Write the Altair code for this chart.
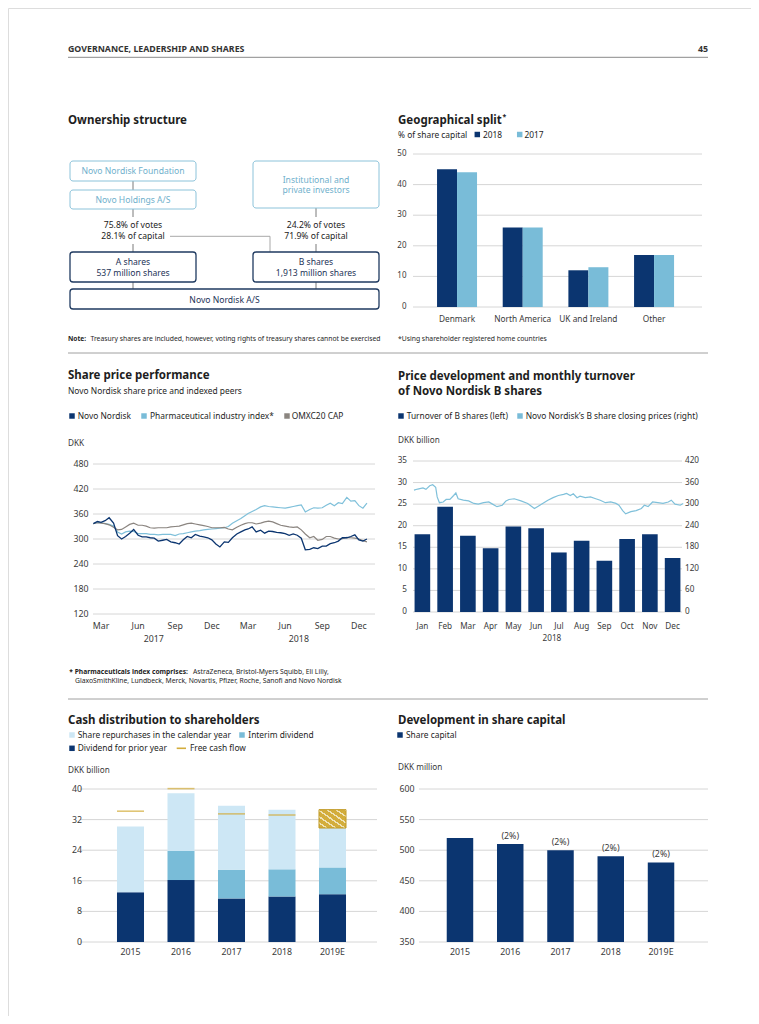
import altair as alt
import pandas as pd

FONT = "Noto Sans"
NAVY = "#0b3570"
LBLUE = "#79bcd8"
VLBLUE = "#cde7f5"
GREY = "#8b8580"
GOLD = "#d3ad3c"
GRID = "#d6d6d6"
TXT = "#1e1e1e"
LAB = "#3a3a3a"

def X(v):
    return v - 8

def Y(v):
    return v - 8

def ts(s):
    return int(pd.Timestamp(s, tz="UTC").value // 10**6)

# ======================= data =======================
geo_regions = ["Denmark", "North America", "UK and Ireland", "Other"]
geo_2018 = [45, 26, 12, 17]
geo_2017 = [44, 26, 13, 17]
geo_ticks = [0, 10, 20, 30, 40, 50]

sp_months = [(2017, m) for m in range(3, 13)] + [(2018, m) for m in range(1, 13)]
sp_dates = ["2017-02-10", "2017-02-20"] + [f"{y}-{m:02d}-{d:02d}" for (y, m) in sp_months for d in (1, 11, 21)]
sp_novo = [337, 342,
           340, 344, 351, 338, 308, 300, 306, 314, 323, 309, 305, 305,
           303, 302, 295, 297, 299, 293, 291, 288, 298, 306, 303, 311,
           307, 305, 303, 298, 288, 281,
           293, 292, 303, 312, 317, 322, 324, 329, 317, 321, 314, 319,
           318, 316, 315, 313, 309, 312, 309, 302, 274, 275, 279, 277,
           283, 283, 289, 291, 295, 303, 303, 306, 310, 298, 295, 300]
sp_pharma = [337, 340,
             339, 337, 335, 331, 317, 312, 317, 319, 318, 313, 313, 313,
             311, 311, 310, 311, 311, 311, 308, 312, 313, 315, 317, 319,
             320, 322, 323, 324, 325, 326,
             327, 330, 338, 344, 349, 356, 361, 366, 371, 377, 380, 378,
             377, 376, 375, 374, 376, 378, 380, 382, 365, 371, 375, 374,
             375, 381, 386, 380, 387, 385, 400, 391, 392, 380, 374, 386]
sp_omx = [337, 339,
          338, 337, 334, 328, 322, 323, 329, 335, 338, 333, 333, 331,
          327, 326, 327, 327, 327, 329, 330, 331, 334, 337, 338, 336,
          334, 332, 330, 327, 327, 327,
          328, 324, 322, 328, 333, 337, 339, 339, 336, 338, 341, 343,
          341, 337, 333, 331, 329, 328, 329, 322, 312, 303, 306, 297,
          299, 306, 306, 302, 300, 301, 304, 303, 302, 300, 296, 293]
sp_ticks = [120, 180, 240, 300, 360, 420, 480]
sp_tick_dates = ["2017-03-01", "2017-06-01", "2017-09-01", "2017-12-01",
                 "2018-03-01", "2018-06-01", "2018-09-01", "2018-12-01"]
sp_tick_labels = ["Mar", "Jun", "Sep", "Dec", "Mar", "Jun", "Sep", "Dec"]
sp_year_dates = ["2017-07-10", "2018-07-05"]
sp_year_labels = ["2017", "2018"]

pd_months = ["Jan", "Feb", "Mar", "Apr", "May", "Jun", "Jul", "Aug", "Sep", "Oct", "Nov", "Dec"]
pd_turnover = [18.0, 24.4, 17.7, 14.8, 19.8, 19.4, 13.8, 16.5, 11.9, 16.9, 18.0, 12.5]
pd_price_dates = ["2018-01-05", "2018-01-10", "2018-01-17", "2018-01-21", "2018-01-26", "2018-01-30",
                  "2018-02-03", "2018-02-05", "2018-02-08", "2018-02-13", "2018-02-17", "2018-02-22", "2018-02-27",
                  "2018-03-02", "2018-03-05", "2018-03-12", "2018-03-19", "2018-03-26",
                  "2018-04-01", "2018-04-08", "2018-04-15", "2018-04-20", "2018-04-26",
                  "2018-05-03", "2018-05-08", "2018-05-12", "2018-05-19", "2018-05-28",
                  "2018-06-06", "2018-06-15", "2018-06-19", "2018-06-26",
                  "2018-07-03", "2018-07-10", "2018-07-17", "2018-07-24", "2018-07-28",
                  "2018-08-02", "2018-08-06", "2018-08-11", "2018-08-15", "2018-08-22", "2018-08-29",
                  "2018-09-05", "2018-09-11", "2018-09-18", "2018-09-25",
                  "2018-10-02", "2018-10-06", "2018-10-11", "2018-10-15", "2018-10-22", "2018-10-29",
                  "2018-11-05", "2018-11-09", "2018-11-14", "2018-11-20", "2018-11-27",
                  "2018-12-04", "2018-12-11", "2018-12-15", "2018-12-20", "2018-12-27", "2018-12-31"]
pd_price = [339, 342, 345, 341, 351, 354,
            347, 320, 304, 306, 313, 313, 324,
            331, 315, 311, 309, 302,
            300, 304, 306, 300, 293,
            297, 309, 313, 315, 309,
            302, 288, 293, 302,
            311, 318, 324, 327, 330,
            324, 329, 318, 322, 318, 320,
            315, 311, 304, 306,
            302, 297, 282, 273, 279, 282,
            288, 297, 293, 306, 304,
            302, 306, 311, 300, 297, 302]
pd_left_ticks = [0, 5, 10, 15, 20, 25, 30, 35]
pd_right_ticks = [0, 60, 120, 180, 240, 300, 360, 420]

cash_years = ["2015", "2016", "2017", "2018", "2019E"]
cash_dividend = [13.0, 16.2, 11.4, 11.9, 12.5]
cash_interim = [0.0, 7.6, 7.5, 7.1, 7.0]
cash_repurchase = [17.2, 15.1, 16.7, 15.6, 10.3]
cash_fcf_years = ["2015", "2016", "2017", "2018"]
cash_fcf = [34.2, 40.1, 33.5, 33.2]
cash_range_2019 = 4.8
cash_ticks = [0, 8, 16, 24, 32, 40]

sc_years = ["2015", "2016", "2017", "2018", "2019E"]
sc_capital = [520, 510, 500, 490, 480]
sc_change = ["", "(2%)", "(2%)", "(2%)", "(2%)"]
sc_ticks = [350, 400, 450, 500, 550, 600]

# ======================= helpers =======================
def pix_text(rows, size, weight="normal", color=TXT, align="left"):
    df = pd.DataFrame(rows, columns=["x", "y", "t"])
    df["x"] = df["x"] - 8
    df["y"] = df["y"] - 8
    return alt.Chart(df).mark_text(font=FONT, fontSize=size, fontWeight=weight, color=color,
                                   align=align, baseline="middle").encode(
        x=alt.X("x:Q", scale=None, axis=None),
        y=alt.Y("y:Q", scale=None, axis=None),
        text="t:N")

def pix_rules(rows, color, width=1.0):
    df = pd.DataFrame(rows, columns=["x", "y", "x2", "y2"]) - 8
    return alt.Chart(df).mark_rule(color=color, strokeWidth=width).encode(
        x=alt.X("x:Q", scale=None, axis=None), y=alt.Y("y:Q", scale=None, axis=None),
        x2="x2:Q", y2="y2:Q")

def pix_boxes(rows, stroke, width):
    df = pd.DataFrame(rows, columns=["x", "y", "x2", "y2"]) - 8
    return alt.Chart(df).mark_rect(fill="white", stroke=stroke, strokeWidth=width, cornerRadius=3).encode(
        x=alt.X("x:Q", scale=None, axis=None), y=alt.Y("y:Q", scale=None, axis=None),
        x2="x2:Q", y2="y2:Q")

def pix_squares(rows, size=30):
    df = pd.DataFrame(rows, columns=["x", "y", "c"])
    df["x"] = df["x"] - 8
    df["y"] = df["y"] - 8
    return alt.Chart(df).mark_square(size=size, opacity=1).encode(
        x=alt.X("x:Q", scale=None, axis=None), y=alt.Y("y:Q", scale=None, axis=None),
        color=alt.Color("c:N", scale=None))

def grid(ticks, yscale, x1, x2):
    return alt.Chart(pd.DataFrame({"v": ticks})).mark_rule(color=GRID, strokeWidth=1).encode(
        y=alt.Y("v:Q", scale=yscale, axis=None), x=alt.value(X(x1)), x2=alt.value(X(x2)))

def ylabels(ticks, yscale, x, align="right", size=8.4):
    return alt.Chart(pd.DataFrame({"v": ticks})).mark_text(
        font=FONT, fontSize=size, color=LAB, align=align, baseline="middle").encode(
        y=alt.Y("v:Q", scale=yscale, axis=None), x=alt.value(X(x)), text=alt.Text("v:Q"))

# ======================= decoration / text =======================
deco = []
deco.append(pix_rules([(68, 57.3, 708, 57.3)], "#8a8a8a", 1))
deco.append(pix_rules([(68, 353, 708, 353), (68, 699, 708, 699)], "#a0a0a0", 1))
deco.append(pix_text([(68, 48.7, "GOVERNANCE, LEADERSHIP AND SHARES")], 8.8, "bold", "#333333"))
deco.append(pix_text([(708, 48.7, "45")], 8.8, "bold", "#333333", align="right"))

deco.append(pix_text([
    (68, 121, "Ownership structure"),
    (398, 121, "Geographical split"),
    (68, 376, "Share price performance"),
    (398, 376.7, "Price development and monthly turnover"),
    (398, 391.7, "of Novo Nordisk B shares"),
    (68, 721.3, "Cash distribution to shareholders"),
    (398, 721, "Development in share capital"),
], 11.5, "bold"))
deco.append(pix_text([(502.5, 117, "*")], 7, "bold"))

deco.append(pix_text([
    (398, 134.5, "% of share capital"),
    (483, 134.5, "2018"), (524.5, 134.5, "2017"),
    (68, 390.5, "Novo Nordisk share price and indexed peers"),
    (77.7, 416, "Novo Nordisk"), (150, 416, "Pharmaceutical industry index*"), (291.7, 416, "OMXC20 CAP"),
    (406.7, 416, "Turnover of B shares (left)"), (525.7, 416, "Novo Nordisk\u2019s B share closing prices (right)"),
    (77.7, 735, "Share repurchases in the calendar year"), (248.3, 735, "Interim dividend"),
    (77.7, 748.3, "Dividend for prior year"), (190, 748.3, "Free cash flow"),
    (406, 735, "Share capital"),
], 8.4))
deco.append(pix_text([
    (68, 444.3, "DKK"), (398, 441, "DKK billion"), (68, 771, "DKK billion"), (398, 768.3, "DKK million"),
], 8.2, color=LAB))

deco.append(pix_squares([
    (477.3, 134.5, NAVY), (519.7, 134.5, LBLUE),
    (72, 416, NAVY), (144, 416, LBLUE), (287, 416, GREY),
    (401, 416, NAVY), (520, 416, LBLUE),
    (72, 735, VLBLUE), (242, 735, LBLUE), (72, 748.3, NAVY),
    (400, 735, NAVY),
]))
deco.append(pix_rules([(176.7, 748.3, 186, 748.3)], GOLD, 1.6))

deco.append(pix_text([(68, 339, "Note:")], 6.6, "bold"))
deco.append(pix_text([(69.3, 671.7, "* Pharmaceuticals index comprises:")], 6.7, "bold"))
deco.append(pix_text([
    (90.5, 339, "Treasury shares are included, however, voting rights of treasury shares cannot be exercised"),
    (398, 339, "*Using shareholder registered home countries"),
    (193, 671.7, "AstraZeneca, Bristol-Myers Squibb, Eli Lilly,"),
    (75, 680.7, "GlaxoSmithKline, Lundbeck, Merck, Novartis, Pfizer, Roche, Sanofi and Novo Nordisk"),
], 6.8))

# ownership diagram
deco.append(pix_rules([(133, 181, 133, 190), (133, 209, 133, 217), (133, 244, 133, 252), (133, 282, 133, 289),
                       (316, 208, 316, 217), (316, 244, 316, 252), (316, 282, 316, 289)], "#7a7a7a", 1))
deco.append(pix_rules([(170, 236.3, 270, 236.3), (270, 236.3, 270, 252)], "#a8a8a8", 1))
deco.append(pix_boxes([(70, 161, 196, 181), (70, 190, 196, 209), (253, 161, 379, 208)], "#8cc3da", 1))
deco.append(pix_boxes([(70, 252, 196, 282), (253, 252, 379, 282), (70, 289, 379, 309)], "#1f3a60", 1.3))
deco.append(pix_text([
    (133, 171, "Novo Nordisk Foundation"), (133, 199.5, "Novo Holdings A/S"),
    (316, 180, "Institutional and"), (316, 190.3, "private investors"),
], 8.6, color="#6fb0cc", align="center"))
deco.append(pix_text([
    (133, 225.3, "75.8% of votes"), (133, 235.7, "28.1% of capital"),
    (316, 225.3, "24.2% of votes"), (316, 235.7, "71.9% of capital"),
], 8.6, color="#222222", align="center"))
deco.append(pix_text([
    (133, 262.3, "A shares"), (133, 272.7, "537 million shares"),
    (316, 262.3, "B shares"), (316, 272.7, "1,913 million shares"),
    (224.5, 299.5, "Novo Nordisk A/S"),
], 8.6, color="#1d3357", align="center"))

# ======================= geographical split =======================
geo_df = pd.DataFrame({"region": geo_regions * 2,
                       "year": ["2018"] * 4 + ["2017"] * 4,
                       "value": geo_2018 + geo_2017})
geo_x = alt.Scale(domain=geo_regions, range=[X(424.2), X(686.9)], paddingInner=0.391, paddingOuter=0.1955)
geo_y = alt.Scale(domain=[0, 50], range=[Y(307), Y(154)], nice=False, zero=False)
geo_group = alt.layer(
    grid(geo_ticks, geo_y, 413, 702),
    alt.Chart(geo_df).mark_bar().encode(
        x=alt.X("region:N", scale=geo_x, axis=None, sort=geo_regions),
        xOffset=alt.XOffset("year:N", sort=["2018", "2017"]),
        y=alt.Y("value:Q", scale=geo_y, axis=None),
        color=alt.Color("year:N", scale=alt.Scale(domain=["2018", "2017"], range=[NAVY, LBLUE]), legend=None)),
    ylabels(geo_ticks, geo_y, 406.5, size=8),
    alt.Chart(pd.DataFrame({"region": geo_regions})).mark_text(
        font=FONT, fontSize=8.3, color=LAB, baseline="middle").encode(
        x=alt.X("region:N", scale=geo_x, axis=None, sort=geo_regions),
        y=alt.value(Y(320)), text="region:N"),
)

# ======================= share price performance =======================
sp_df = pd.DataFrame({"date": sp_dates, "novo": sp_novo, "pharma": sp_pharma, "omx": sp_omx})
sp_x = alt.Scale(domain=[ts("2017-02-09"), ts("2019-01-10")], range=[X(93), X(375)], nice=False)
sp_y = alt.Scale(domain=[120, 480], range=[Y(614), Y(464)], nice=False, zero=False)
sp_base = alt.Chart(sp_df)
sp_group = alt.layer(
    grid(sp_ticks, sp_y, 93, 375),
    sp_base.mark_line(color="#7fc0da", strokeWidth=1.2).encode(
        x=alt.X("date:T", scale=sp_x, axis=None), y=alt.Y("pharma:Q", scale=sp_y, axis=None)),
    sp_base.mark_line(color=GREY, strokeWidth=1.2).encode(
        x=alt.X("date:T", scale=sp_x, axis=None), y=alt.Y("omx:Q", scale=sp_y, axis=None)),
    sp_base.mark_line(color=NAVY, strokeWidth=1.3).encode(
        x=alt.X("date:T", scale=sp_x, axis=None), y=alt.Y("novo:Q", scale=sp_y, axis=None)),
    ylabels(sp_ticks, sp_y, 88.5, size=8.8),
    alt.Chart(pd.DataFrame({"d": sp_tick_dates, "l": sp_tick_labels})).mark_text(
        font=FONT, fontSize=8.8, color=LAB, baseline="middle").encode(
        x=alt.X("d:T", scale=sp_x, axis=None), y=alt.value(Y(625.7)), text="l:N"),
    alt.Chart(pd.DataFrame({"d": sp_year_dates, "l": sp_year_labels})).mark_text(
        font=FONT, fontSize=8.8, color=LAB, baseline="middle").encode(
        x=alt.X("d:T", scale=sp_x, axis=None), y=alt.value(Y(639.3)), text="l:N"),
)

# ======================= price development / turnover =======================
pdv_df = pd.DataFrame({"month": pd_months, "turnover": pd_turnover})
pdv_x = alt.Scale(domain=pd_months, range=[X(411), X(684)], paddingInner=0.313, paddingOuter=0.157)
pdv_y = alt.Scale(domain=[0, 35], range=[Y(612), Y(461)], nice=False, zero=False)
pdv_bar_group = alt.layer(
    grid(pd_left_ticks, pdv_y, 413, 682),
    alt.Chart(pdv_df).mark_bar(color=NAVY).encode(
        x=alt.X("month:N", scale=pdv_x, axis=None, sort=pd_months),
        y=alt.Y("turnover:Q", scale=pdv_y, axis=None)),
    ylabels(pd_left_ticks, pdv_y, 407, size=8.2),
    alt.Chart(pd.DataFrame({"month": pd_months})).mark_text(
        font=FONT, fontSize=8.2, color=LAB, baseline="middle").encode(
        x=alt.X("month:N", scale=pdv_x, axis=None, sort=pd_months),
        y=alt.value(Y(626.7)), text="month:N"),
    alt.Chart(pd.DataFrame({"month": ["Jul"], "l": ["2018"]})).mark_text(
        font=FONT, fontSize=8.2, color=LAB, baseline="middle", dx=-7).encode(
        x=alt.X("month:N", scale=pdv_x, axis=None, sort=pd_months),
        y=alt.value(Y(639.3)), text="l:N"),
)
pdp_df = pd.DataFrame({"date": pd_price_dates, "price": pd_price})
pdp_x = alt.Scale(domain=[ts("2018-01-01"), ts("2019-01-01")], range=[X(411), X(684)], nice=False)
pdp_y = alt.Scale(domain=[0, 420], range=[Y(612), Y(461)], nice=False, zero=False)
pdv_line_group = alt.layer(
    alt.Chart(pdp_df).mark_line(color="#7fc0da", strokeWidth=1.2).encode(
        x=alt.X("date:T", scale=pdp_x, axis=None), y=alt.Y("price:Q", scale=pdp_y, axis=None)),
    ylabels(pd_right_ticks, pdp_y, 685, align="left", size=8.2),
)

# ======================= cash distribution =======================
rows = []
for yr, d, i, r in zip(cash_years, cash_dividend, cash_interim, cash_repurchase):
    rows.append((yr, "Dividend for prior year", 0.0, d))
    rows.append((yr, "Interim dividend", d, d + i))
    rows.append((yr, "Share repurchases", d + i, d + i + r))
cash_df = pd.DataFrame(rows, columns=["year", "part", "y0", "y1"])
top2019 = cash_dividend[-1] + cash_interim[-1] + cash_repurchase[-1]
cash_range_df = pd.DataFrame({"year": ["2019E"], "y0": [top2019], "y1": [top2019 + cash_range_2019]})
fcf_df = pd.DataFrame({"year": cash_fcf_years, "fcf": cash_fcf})

cash_x = alt.Scale(domain=cash_years, range=[X(105.25), X(357.75)], paddingInner=0.465, paddingOuter=0.2325)
cash_y = alt.Scale(domain=[0, 40], range=[Y(942), Y(789)], nice=False, zero=False)

stops = []
n_stripes = 6
for k in range(n_stripes):
    a = k / n_stripes
    b = (k + 0.72) / n_stripes
    c = (k + 1) / n_stripes
    stops += [alt.GradientStop(color=GOLD, offset=a), alt.GradientStop(color=GOLD, offset=b),
              alt.GradientStop(color="#efe3b8", offset=b), alt.GradientStop(color="#efe3b8", offset=c)]
hatch = alt.Gradient(gradient="linear", stops=stops, x1=0, y1=1, x2=1, y2=0)

cash_group = alt.layer(
    grid(cash_ticks, cash_y, 80, 377),
    alt.Chart(cash_df).mark_bar().encode(
        x=alt.X("year:N", scale=cash_x, axis=None, sort=cash_years),
        y=alt.Y("y1:Q", scale=cash_y, axis=None), y2="y0:Q",
        color=alt.Color("part:N", scale=alt.Scale(
            domain=["Dividend for prior year", "Interim dividend", "Share repurchases"],
            range=[NAVY, LBLUE, VLBLUE]), legend=None)),
    alt.Chart(cash_range_df).mark_bar(fill=hatch, stroke="#c09a26", strokeWidth=1).encode(
        x=alt.X("year:N", scale=cash_x, axis=None, sort=cash_years),
        y=alt.Y("y1:Q", scale=cash_y, axis=None), y2="y0:Q"),
    alt.Chart(fcf_df).mark_tick(color=GOLD, thickness=1.6, size=27, orient="horizontal").encode(
        x=alt.X("year:N", scale=cash_x, axis=None, sort=cash_years),
        y=alt.Y("fcf:Q", scale=cash_y, axis=None)),
    ylabels(cash_ticks, cash_y, 82, size=8.8),
    alt.Chart(pd.DataFrame({"year": cash_years})).mark_text(
        font=FONT, fontSize=8.8, color=LAB, baseline="middle").encode(
        x=alt.X("year:N", scale=cash_x, axis=None, sort=cash_years),
        y=alt.value(Y(952.3)), text="year:N"),
)

# ======================= share capital =======================
sc_df = pd.DataFrame({"year": sc_years, "capital": sc_capital, "change": sc_change})
sc_x = alt.Scale(domain=sc_years, range=[X(434.85), X(686.15)], paddingInner=0.473, paddingOuter=0.2365)
sc_y = alt.Scale(domain=[350, 600], range=[Y(942), Y(789)], nice=False, zero=False)
sc_group = alt.layer(
    grid(sc_ticks, sc_y, 419, 708),
    alt.Chart(sc_df).mark_bar(color=NAVY).encode(
        x=alt.X("year:N", scale=sc_x, axis=None, sort=sc_years),
        y=alt.Y("capital:Q", scale=sc_y, axis=None), y2=alt.datum(350)),
    alt.Chart(sc_df).mark_text(font=FONT, fontSize=8.8, color=LAB, baseline="bottom", dy=-3).encode(
        x=alt.X("year:N", scale=sc_x, axis=None, sort=sc_years),
        y=alt.Y("capital:Q", scale=sc_y, axis=None), text="change:N"),
    ylabels(sc_ticks, sc_y, 414.5, size=8.8),
    alt.Chart(pd.DataFrame({"year": sc_years})).mark_text(
        font=FONT, fontSize=8.8, color=LAB, baseline="middle").encode(
        x=alt.X("year:N", scale=sc_x, axis=None, sort=sc_years),
        y=alt.value(Y(952.3)), text="year:N"),
)

chart = alt.layer(
    *deco, geo_group, sp_group, pdv_bar_group, pdv_line_group, cash_group, sc_group
).resolve_scale(
    x="independent", y="independent", color="independent"
).properties(
    width=743, height=1008, padding=0, autosize=alt.AutoSizeParams(type="none")
).configure_view(stroke=None).configure(background="white")

chart.save("out.html", embed_options={"renderer": "svg", "actions": False})
